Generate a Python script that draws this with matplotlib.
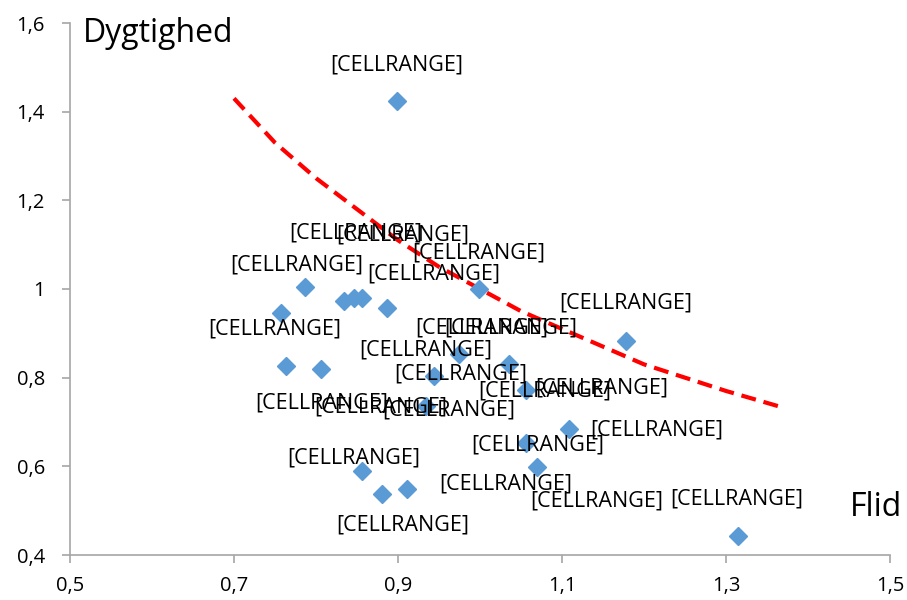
import matplotlib
matplotlib.use("Agg")
import matplotlib.pyplot as plt
from matplotlib.ticker import FuncFormatter, FixedLocator

plt.rcParams['font.family'] = ['Open Sans', 'DejaVu Sans']

# punkter (Flid, Dygtighed)
flid = [0.899, 0.787, 0.757, 0.763, 0.806, 0.834, 0.846, 0.856, 0.887, 0.999,
        0.974, 0.944, 1.035, 1.056, 0.934, 1.178, 1.108, 1.056, 1.069, 0.856,
        0.880, 0.911, 1.315]
dygtighed = [1.424, 1.005, 0.946, 0.826, 0.820, 0.973, 0.980, 0.980, 0.957, 1.000,
             0.853, 0.804, 0.831, 0.772, 0.736, 0.883, 0.684, 0.653, 0.599, 0.590,
             0.538, 0.549, 0.443]

# tendenslinje
trend_x = [0.70, 0.75, 0.80, 0.85, 0.90, 0.95, 1.00, 1.05, 1.10, 1.15, 1.20, 1.25, 1.30, 1.365]
trend_y = [1.43, 1.33, 1.25, 1.18, 1.11, 1.05, 1.00, 0.95, 0.91, 0.87, 0.83, 0.80, 0.77, 0.735]

# dataetiketter (placeholder-tekst fra Excel)
label_text = "[CELLRANGE]"
label_x = [0.899, 0.849, 0.906, 0.999, 0.776, 0.944, 1.178, 0.750, 1.002, 1.037,
           0.934, 0.976, 1.079, 1.149, 0.807, 0.879, 0.962, 1.216, 1.070, 0.846,
           1.032, 0.906, 1.142, 1.313]
label_y = [1.505, 1.126, 1.122, 1.081, 1.054, 1.034, 0.969, 0.910, 0.912, 0.912,
           0.862, 0.808, 0.770, 0.777, 0.743, 0.734, 0.727, 0.682, 0.648, 0.619,
           0.560, 0.468, 0.522, 0.526]

x_ticks = [0.5, 0.7, 0.9, 1.1, 1.3, 1.5]
y_ticks = [0.4, 0.6, 0.8, 1.0, 1.2, 1.4, 1.6]

fig = plt.figure(figsize=(9.07, 6), dpi=100)
ax = fig.add_axes([70 / 907, 45 / 600, 820 / 907, 532 / 600])

ax.plot(trend_x, trend_y, color="#FF0000", lw=3, ls=(0, (3.6, 1.9)), zorder=2)
ax.plot(flid, dygtighed, ls="none", marker="D", ms=9, color="#5B9BD5", zorder=3)

for lx, ly in zip(label_x, label_y):
    ax.text(lx, ly, label_text, ha="center", va="center", fontsize=15.5, zorder=4)

ax.set_xlim(0.5, 1.5)
ax.set_ylim(0.4, 1.6)
ax.xaxis.set_major_locator(FixedLocator(x_ticks))
ax.yaxis.set_major_locator(FixedLocator(y_ticks))
fmt = FuncFormatter(lambda v, p: f"{round(v, 2):g}".replace(".", ","))
ax.xaxis.set_major_formatter(fmt)
ax.yaxis.set_major_formatter(fmt)

for s in ["top", "right"]:
    ax.spines[s].set_visible(False)
for s in ["left", "bottom"]:
    ax.spines[s].set_color("#A6A6A6")
    ax.spines[s].set_linewidth(1.2)
ax.tick_params(direction="out", length=6, width=1.2, color="#A6A6A6",
               labelsize=14.5)
ax.tick_params(axis="x", pad=9)
ax.tick_params(axis="y", pad=12)

fig.text(83 / 907, 1 - 33 / 600, "Dygtighed", fontsize=23, ha="left", va="center")
fig.text(902 / 907, 1 - 507 / 600, "Flid", fontsize=23, ha="right", va="center")

fig.savefig("out.png", dpi=100)
